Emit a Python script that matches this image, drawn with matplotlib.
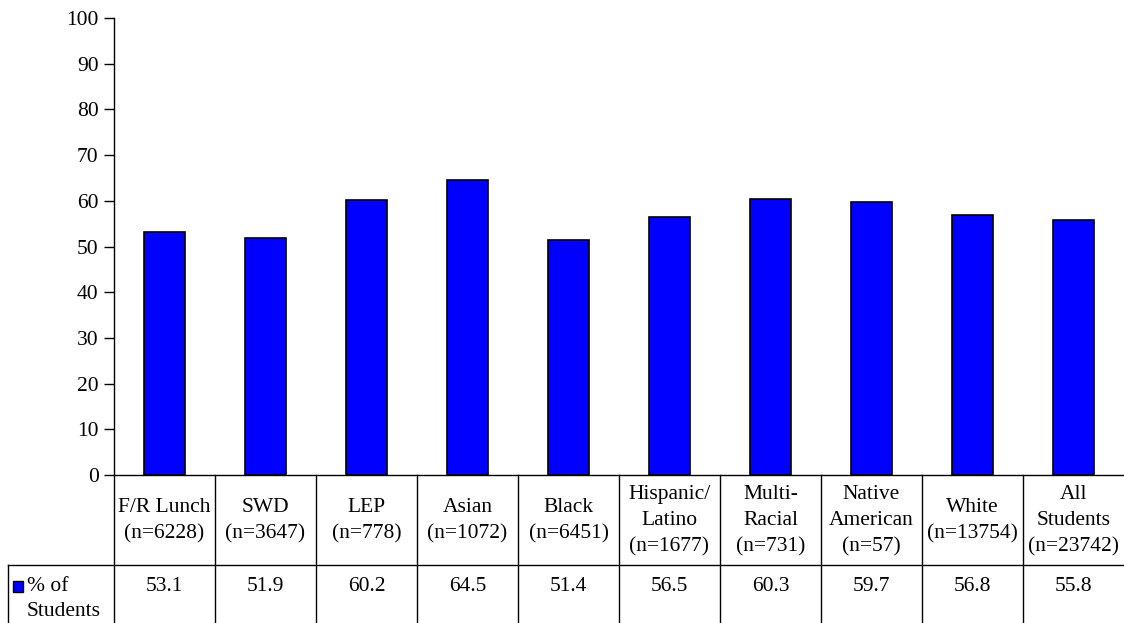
import matplotlib.pyplot as plt
from matplotlib.patches import Rectangle
from matplotlib.transforms import blended_transform_factory

# chart data
groups = ['F/R Lunch\n(n=6228)', 'SWD\n(n=3647)', 'LEP\n(n=778)', 'Asian\n(n=1072)',
          'Black\n(n=6451)', 'Hispanic/\nLatino\n(n=1677)', 'Multi-\nRacial\n(n=731)',
          'Native\nAmerican\n(n=57)', 'White\n(n=13754)', 'All\nStudents\n(n=23742)']
pct_students = [53.1, 51.9, 60.2, 64.5, 51.4, 56.5, 60.3, 59.7, 56.8, 55.8]
series_name = '% of\nStudents'

FS = 15.5
plt.rcParams['font.family'] = ['Liberation Serif', 'DejaVu Serif']
plt.rcParams['font.size'] = FS

W, H = 1124, 623
fig = plt.figure(figsize=(W / 100, H / 100), dpi=100)
ax = fig.add_axes([114 / W, (H - 475) / H, (1124 - 114) / W, (475 - 18) / H])

x = list(range(len(groups)))
ax.bar(x, pct_students, width=0.41, color='#0000FF', edgecolor='black', linewidth=1.2)

ax.set_xlim(-0.5, len(groups) - 0.5)
ax.set_ylim(0, 100)
ax.set_yticks(range(0, 101, 10))
ax.tick_params(axis='y', length=7, width=1, pad=4, labelsize=FS)
ax.set_xticks([])
for s in ['top', 'right']:
    ax.spines[s].set_visible(False)
ax.spines['left'].set_linewidth(1)
ax.spines['bottom'].set_linewidth(1)

# data table below the axes
trans = blended_transform_factory(ax.transData, ax.transAxes)
ax_h = 475 - 18
hdr_bot = -90 / ax_h
row_bot = -148 / ax_h
left_x = -0.5 - (114 - 8) / 101

lw = 1
ax.plot([-0.5, -0.5], [0, row_bot], color='black', lw=lw, transform=trans, clip_on=False)
for i in range(1, len(groups)):
    ax.plot([i - 0.5, i - 0.5], [0, row_bot], color='black', lw=lw, transform=trans, clip_on=False)
ax.plot([left_x, len(groups) - 0.5], [hdr_bot, hdr_bot], color='black', lw=lw,
        transform=trans, clip_on=False)
ax.plot([left_x, left_x], [hdr_bot, row_bot], color='black', lw=lw, transform=trans, clip_on=False)

for i, (g, v) in enumerate(zip(groups, pct_students)):
    ax.text(i, hdr_bot / 2 - 1 / ax_h, g, ha='center', va='center', transform=trans,
            linespacing=1.5, fontsize=FS)
    ax.text(i, hdr_bot - 12 / ax_h, f'{v:.1f}', ha='center', va='top', transform=trans, fontsize=FS)

# legend key in the table row
key = Rectangle((left_x + 5 / 101, hdr_bot - 27 / ax_h), 10 / 101, 11 / ax_h,
                facecolor='#0000FF', edgecolor='black', lw=1, transform=trans, clip_on=False)
ax.add_patch(key)
ax.text(left_x + 19 / 101, hdr_bot - 12 / ax_h, series_name, ha='left', va='top',
        transform=trans, linespacing=1.4, fontsize=FS)

fig.savefig('out.png', dpi=100)
